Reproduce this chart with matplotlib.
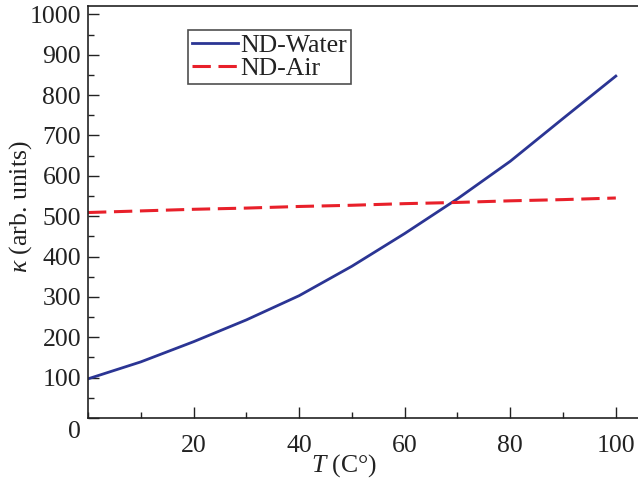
import matplotlib
matplotlib.use("Agg")
import matplotlib.pyplot as plt
import matplotlib.transforms as mtransforms
from matplotlib.ticker import MultipleLocator

plt.rcParams['font.family'] = ['Liberation Serif', 'DejaVu Serif']
plt.rcParams['mathtext.fontset'] = 'custom'
plt.rcParams['mathtext.rm'] = 'Liberation Serif'
plt.rcParams['mathtext.it'] = 'Liberation Serif:italic'

temps = [0, 10, 20, 30, 40, 50, 60, 70, 80, 90, 100]
water = [97, 139, 189, 243, 303, 376, 457, 543, 636, 742, 847]
air = [509, 513, 517, 520, 524, 527, 531, 534, 538, 541, 545]
xticks = [20, 40, 60, 80, 100]
yticks = [0, 100, 200, 300, 400, 500, 600, 700, 800, 900, 1000]

fig = plt.figure(figsize=(6.38, 4.8), dpi=100)
ax = fig.add_axes([88/638, 62/480, 550/638, 412/480])

ax.plot(temps, water, color='#2b3594', lw=2.0, label='ND-Water')
ax.plot(temps, air, color='#e8202a', lw=2.2, dashes=(6, 2.5), label='ND-Air')

ax.set_xlim(0, 104.2)
ax.set_ylim(0, 1020.6)
ax.set_xticks(xticks)
ax.set_yticks(yticks)
ax.xaxis.set_minor_locator(MultipleLocator(10))
ax.yaxis.set_minor_locator(MultipleLocator(50))
ax.tick_params(which='both', direction='in', top=False, right=False, labelsize=18.5, colors='#222222')
ax.tick_params(which='major', length=8, width=1.0)
ax.tick_params(which='minor', length=4, width=1.0)
ax.tick_params(axis='x', pad=12)
ax.tick_params(axis='y', pad=5)
ax.spines['right'].set_visible(False)
for s in ['left', 'bottom', 'top']:
    ax.spines[s].set_linewidth(1.2)
    ax.spines[s].set_color('#222222')

fig.canvas.draw()
zero_label = ax.get_yticklabels()[0]
zero_label.set_transform(zero_label.get_transform() +
                         mtransforms.ScaledTranslation(0, -12/100, fig.dpi_scale_trans))

ax.set_xlabel(r'$T$ (C°)', fontsize=18.5, color='#222222')
ax.xaxis.set_label_coords(0.466, -0.082)
ax.set_ylabel(r'$\kappa$ (arb. units)', fontsize=18.5, color='#222222')
ax.yaxis.set_label_coords(-0.098, 0.512)

leg = ax.legend(loc='upper left', bbox_to_anchor=(188/638, 1 - 30/480),
                bbox_transform=fig.transFigure, fontsize=18.5, frameon=True,
                fancybox=False, handlelength=1.8, handletextpad=0.1,
                labelspacing=0.0, borderpad=0.15, borderaxespad=0)
leg.get_frame().set_edgecolor('#222222')
leg.get_frame().set_linewidth(1.2)
for t in leg.get_texts():
    t.set_color('#222222')

fig.savefig('out.png', dpi=100)
